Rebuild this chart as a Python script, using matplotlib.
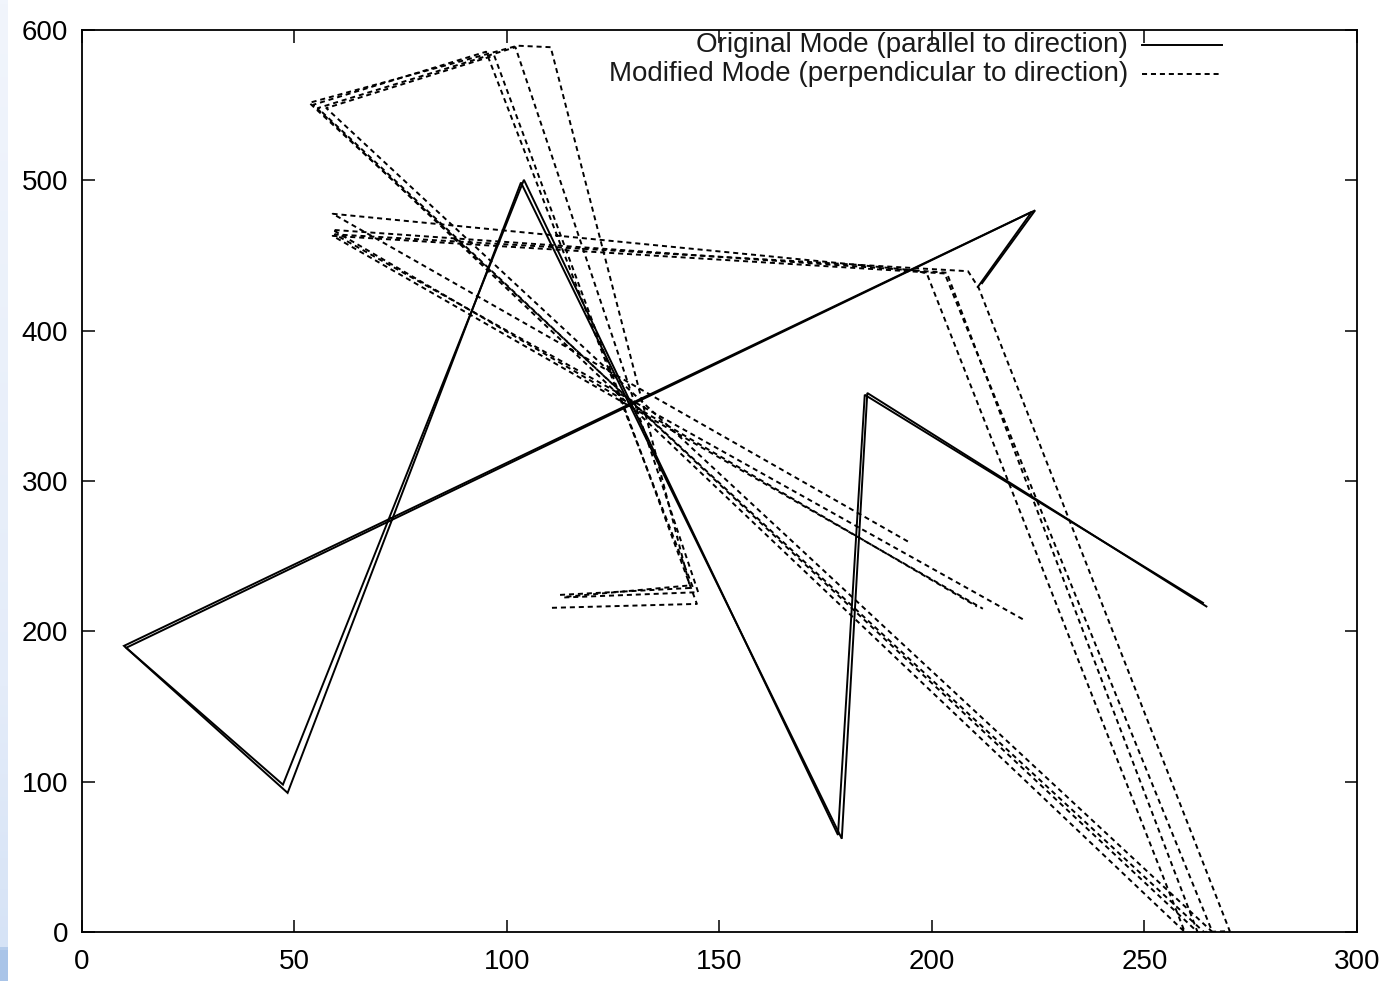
import matplotlib.pyplot as plt
import numpy as np

plt.rcParams['font.family'] = ['Liberation Sans', 'DejaVu Sans']

# --- Original mode (parallel to direction): two passes over the same waypoints ---
orig_run1_x = [210.8, 223.5, 9.9, 47.3, 104.0, 177.9, 184.2, 263.8]
orig_run1_y = [429.0, 479.0, 190.3, 98.0, 500.3, 64.5, 357.3, 218.9]
orig_run2_x = [211.8, 224.3, 10.4, 48.4, 103.3, 178.8, 184.8, 264.6]
orig_run2_y = [431.5, 480.0, 189.0, 92.5, 498.5, 62.0, 358.5, 216.5]

# --- Modified mode (perpendicular to direction): four passes ---
mod_run1_x = [112.5, 143.8, 95.1, 54.4, 259.5, 198.8, 196.0, 59.0, 194.8]
mod_run1_y = [224.2, 228.9, 585.5, 550.2, 0.0, 438.0, 440.0, 477.7, 259.0]
mod_run2_x = [113.5, 145.0, 102.0, 55.5, 262.5, 203.5, 59.0, 210.6]
mod_run2_y = [222.5, 226.0, 588.5, 548.0, 0.0, 438.5, 467.0, 216.5]
mod_run3_x = [114.0, 143.0, 110.3, 102.5, 53.5, 264.0, 270.1, 211.0, 208.5, 59.5, 221.4]
mod_run3_y = [223.0, 230.5, 588.5, 589.5, 551.5, 0.0, 0.5, 428.5, 439.5, 464.0, 208.0]
mod_run4_x = [110.6, 144.7, 97.0, 57.5, 266.0, 203.0, 59.0, 212.0]
mod_run4_y = [215.6, 218.2, 583.0, 548.0, 0.0, 438.0, 463.0, 215.0]

orig_runs = [(orig_run1_x, orig_run1_y), (orig_run2_x, orig_run2_y)]
mod_runs = [(mod_run1_x, mod_run1_y), (mod_run2_x, mod_run2_y),
            (mod_run3_x, mod_run3_y), (mod_run4_x, mod_run4_y)]

labels = ["Original Mode (parallel to direction)",
          "Modified Mode (perpendicular to direction)"]

DASH = (0, (2.6, 2.0))

fig = plt.figure(figsize=(13.84, 9.81), dpi=100)

# thin page-background strip along the left edge
strip = fig.add_axes([0, 0, 8 / 1384, 1])
grad = np.linspace(0, 1, 256).reshape(-1, 1)
cmap = plt.matplotlib.colors.LinearSegmentedColormap.from_list(
    "page", [(0.0, "#a9c4e8"), (0.03, "#a9c4e8"), (0.035, "#d6e3f6"),
             (0.3, "#e4ecf9"), (1.0, "#f1f5fc")])
strip.imshow(grad, aspect='auto', cmap=cmap, origin='lower', extent=[0, 1, 0, 1])
strip.axis('off')

ax = fig.add_axes([0.0592, 0.0500, 0.9212, 0.9195])

for xs, ys in orig_runs:
    ax.plot(xs, ys, color='black', lw=1.4, solid_joinstyle='miter')
for xs, ys in mod_runs:
    ax.plot(xs, ys, color='black', lw=1.4, linestyle=DASH)

ax.set_xlim(0, 300)
ax.set_ylim(0, 600)
ax.set_xticks(np.arange(0, 301, 50))
ax.set_yticks(np.arange(0, 601, 100))
ax.tick_params(direction='in', length=9, width=1.1, top=True, right=True,
               labelsize=20, colors='black')
ax.tick_params(axis='x', pad=12)
ax.tick_params(axis='y', pad=10)
for s in ax.spines.values():
    s.set_linewidth(1.3)

# gnuplot-style key: right-aligned text followed by the line sample
key_y = [0.9834, 0.9512]
ax.text(0.8204, key_y[0], labels[0], transform=ax.transAxes, ha='right',
        va='center', fontsize=20, color='#1a1a1a')
ax.plot([0.8314, 0.8941], [key_y[0], key_y[0]], transform=ax.transAxes,
        color='black', lw=1.4, clip_on=False)
ax.text(0.8204, key_y[1], labels[1], transform=ax.transAxes, ha='right',
        va='center', fontsize=20, color='#1a1a1a')
ax.plot([0.8314, 0.8941], [key_y[1], key_y[1]], transform=ax.transAxes,
        color='black', lw=1.4, linestyle=DASH, clip_on=False)

fig.savefig("out.png", dpi=100)
